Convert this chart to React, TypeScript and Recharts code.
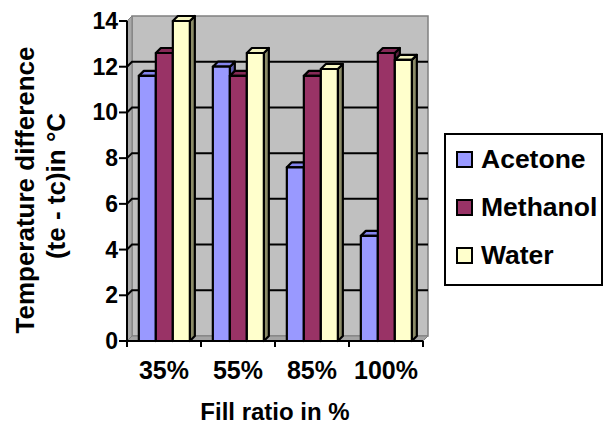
import React from 'react';
import { BarChart, Bar, XAxis, YAxis, CartesianGrid, Legend } from 'recharts';

// Fill ratio categories and temperature difference (te - tc) per working fluid, in °C
const fillRatios = ['35%', '55%', '85%', '100%'];
const acetone = [11.6, 12.0, 7.6, 4.6];
const methanol = [12.6, 11.6, 11.6, 12.6];
const water = [14.0, 12.6, 11.9, 12.3];
const yTicks = [0, 2, 4, 6, 8, 10, 12, 14];

const seriesInfo = [
  { key: 'Acetone', front: '#9999ff', top: '#8585ee', side: '#5c5cb0' },
  { key: 'Methanol', front: '#993366', top: '#862a57', side: '#5e1f3e' },
  { key: 'Water', front: '#ffffcc', top: '#f4f4c2', side: '#8c8c68' },
];

const data = fillRatios.map((ratio, i) => ({
  ratio,
  Acetone: acetone[i],
  Methanol: methanol[i],
  Water: water[i],
}));

const FONT = "'Liberation Sans', Arial, sans-serif";
const DEPTH = 5;

// Bar drawn as a box: front face, top face and right side face
const make3DBar = (front: string, top: string, side: string) => (props: any) => {
  const { x, y, width, height } = props;
  if (x == null || y == null || !width || height == null) return <g />;
  const d = DEPTH;
  const r = x + width;
  const b = y + height;
  return (
    <g stroke="#000" strokeWidth={2.2} strokeLinejoin="round">
      <polygon points={`${r},${y} ${r + d},${y - d} ${r + d},${b - d} ${r},${b}`} fill={side} />
      <polygon points={`${x},${y} ${x + d},${y - d} ${r + d},${y - d} ${r},${y}`} fill={top} />
      <rect x={x} y={y} width={width} height={height} fill={front} />
    </g>
  );
};

// Back wall, side wall and floor, plus gridlines projected onto the walls
const WallGridLine = (props: any) => {
  const { x1, x2, y1, index, x, y, width, height } = props;
  const d = DEPTH;
  const X0 = x;
  const X1 = x + width;
  const Y0 = y;
  const Y1 = y + height;
  const isEdge = Math.abs(y1 - Y0) < 0.5 || Math.abs(y1 - Y1) < 0.5;
  return (
    <g>
      {index === 0 && (
        <g>
          <rect x={X0 + d} y={Y0 - d} width={width} height={height} fill="#c0c0c0" stroke="#808080" strokeWidth={1.5} />
          <polygon
            points={`${X0},${Y0} ${X0 + d},${Y0 - d} ${X0 + d},${Y1 - d} ${X0},${Y1}`}
            fill="#a8a8a8"
            stroke="#808080"
            strokeWidth={1}
          />
          <polygon
            points={`${X0},${Y1} ${X0 + d},${Y1 - d} ${X1 + d},${Y1 - d} ${X1},${Y1}`}
            fill="#a4a4a4"
            stroke="#808080"
            strokeWidth={1}
          />
        </g>
      )}
      {!isEdge && (
        <path
          d={`M${x1},${y1} L${x1 + d},${y1 - d} L${x2 + d},${y1 - d}`}
          stroke="#000"
          strokeWidth={2}
          fill="none"
        />
      )}
    </g>
  );
};

const TICK_SIZE_X = 6;

// Category label centred in its band, with tick marks on the band boundaries
const CategoryTick = (props: any) => {
  const { x, y, payload, index, visibleTicksCount, width } = props;
  const count = visibleTicksCount || fillRatios.length;
  const half = width ? width / count / 2 : 37;
  const top = y - TICK_SIZE_X;
  return (
    <g>
      <line x1={x - half} y1={top} x2={x - half} y2={y} stroke="#000" strokeWidth={2} />
      {index === count - 1 && (
        <line x1={x + half} y1={top} x2={x + half} y2={y} stroke="#000" strokeWidth={2} />
      )}
      <text
        x={x}
        y={y + 32}
        textAnchor="middle"
        style={{ fontFamily: FONT, fontWeight: 700, fontSize: 25, fill: '#000' }}
      >
        {payload.value}
      </text>
    </g>
  );
};

const ValueTick = (props: any) => {
  const { x, y, payload } = props;
  return (
    <text
      x={x}
      y={y}
      textAnchor="end"
      dominantBaseline="central"
      style={{ fontFamily: FONT, fontWeight: 700, fontSize: 23, fill: '#000' }}
    >
      {payload.value}
    </text>
  );
};

const XTitle = (props: any) => {
  const vb = props.viewBox || { x: 127, y: 341, width: 296, height: 87 };
  return (
    <text
      x={vb.x + vb.width / 2}
      y={vb.y + 79}
      textAnchor="middle"
      style={{ fontFamily: FONT, fontWeight: 700, fontSize: 24, fill: '#000' }}
    >
      Fill ratio in %
    </text>
  );
};

const YTitle = (props: any) => {
  const vb = props.viewBox || { x: 0, y: 21, width: 127, height: 320 };
  const cy = vb.y + vb.height / 2 + 9;
  const style = { fontFamily: FONT, fontWeight: 700, fontSize: 26, fill: '#000' };
  return (
    <g>
      <text
        transform={`translate(${vb.x + 25}, ${cy}) rotate(-90)`}
        textAnchor="middle"
        dominantBaseline="central"
        style={style}
      >
        Temperature difference
      </text>
      <text
        transform={`translate(${vb.x + 56}, ${cy - 4}) rotate(-90)`}
        textAnchor="middle"
        dominantBaseline="central"
        style={style}
      >
        (te - tc)in °C
      </text>
    </g>
  );
};

const LegendBox = (props: any) => {
  const payload = props.payload || [];
  return (
    <div
      style={{
        width: 159,
        height: 153,
        boxSizing: 'border-box',
        border: '2px solid #000',
        background: '#fff',
      }}
    >
      {payload.map((entry: any) => (
        <div
          key={entry.value}
          style={{ height: 48, display: 'flex', alignItems: 'center', paddingLeft: 10 }}
        >
          <span
            style={{
              display: 'inline-block',
              width: 17,
              height: 17,
              flex: 'none',
              boxSizing: 'border-box',
              border: '2px solid #000',
              background: entry.color,
              marginRight: 8,
            }}
          />
          <span
            style={{
              fontFamily: FONT,
              fontWeight: 'bold',
              fontSize: 26.5,
              color: '#000',
              lineHeight: 1,
              whiteSpace: 'nowrap',
            }}
          >
            {entry.value}
          </span>
        </div>
      ))}
    </div>
  );
};

export default function App() {
  return (
    <div style={{ position: 'absolute', left: 0, top: 0, width: 610, height: 428, background: '#fff' }}>
      <BarChart
        width={610}
        height={428}
        data={data}
        margin={{ top: 21, right: 187, bottom: 0, left: 0 }}
        barGap={0}
        barCategoryGap="16%"
      >
        <CartesianGrid vertical={false} horizontal={WallGridLine as any} stroke="#000" />
        <XAxis
          dataKey="ratio"
          height={87}
          tickLine={false}
          tickSize={TICK_SIZE_X}
          tickMargin={0}
          axisLine={{ stroke: '#000', strokeWidth: 2 }}
          tick={CategoryTick as any}
          interval={0}
          label={XTitle as any}
        />
        <YAxis
          width={127}
          domain={[0, 14]}
          ticks={yTicks}
          interval={0}
          tickSize={8}
          tickMargin={1}
          axisLine={{ stroke: '#000', strokeWidth: 2 }}
          tickLine={{ stroke: '#000', strokeWidth: 2 }}
          tick={ValueTick as any}
          label={YTitle as any}
        />
        <Legend
          layout="vertical"
          align="center"
          verticalAlign="middle"
          content={LegendBox as any}
          wrapperStyle={{ left: 444, top: 133, width: 159, height: 153 }}
        />
        {seriesInfo.map((s) => (
          <Bar
            key={s.key}
            dataKey={s.key}
            fill={s.front}
            isAnimationActive={false}
            shape={make3DBar(s.front, s.top, s.side) as any}
          />
        ))}
      </BarChart>
    </div>
  );
}
